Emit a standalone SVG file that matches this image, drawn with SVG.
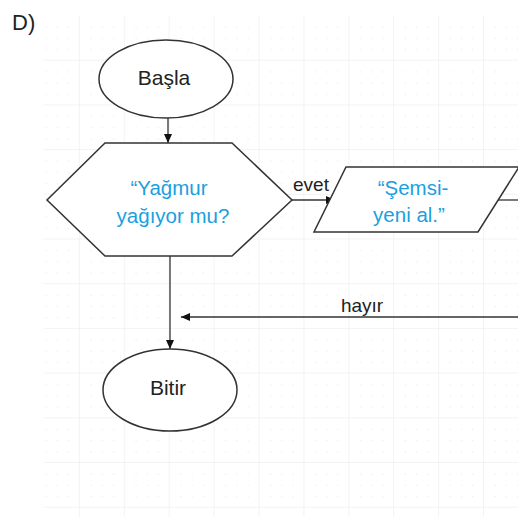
<svg xmlns="http://www.w3.org/2000/svg" width="518" height="517" viewBox="0 0 518 517">
<defs>
<pattern id="grid" x="35" y="16" width="44.9" height="44.7" patternUnits="userSpaceOnUse">
<path d="M44.9 0 V44.7 M0 44.7 H44.9" fill="none" stroke="#e8e8e8" stroke-width="1"/>
<g fill="#ececec">
<circle cx="11.2" cy="11.2" r="0.7"/><circle cx="22.4" cy="11.2" r="0.7"/><circle cx="33.6" cy="11.2" r="0.7"/>
<circle cx="11.2" cy="22.4" r="0.7"/><circle cx="22.4" cy="22.4" r="0.7"/><circle cx="33.6" cy="22.4" r="0.7"/>
<circle cx="11.2" cy="33.6" r="0.7"/><circle cx="22.4" cy="33.6" r="0.7"/><circle cx="33.6" cy="33.6" r="0.7"/>
</g>
</pattern>
<marker id="arr" markerWidth="10" markerHeight="10" refX="9" refY="5" orient="auto" markerUnits="userSpaceOnUse">
<path d="M0 1 L9 5 L0 9 Z" fill="#111"/>
</marker>
</defs>
<style>
.shape{fill:#fff;stroke:#333;stroke-width:1.5}
.edge{fill:none;stroke:#333;stroke-width:1.3}
.t{font-family:"Liberation Sans",Arial,sans-serif;fill:#222;text-anchor:middle}
.b{font-family:"Liberation Sans",Arial,sans-serif;fill:#1a9fe0;text-anchor:middle;font-size:20.5px}
</style>
<rect width="518" height="517" fill="#fff"/>
<rect x="44" y="16" width="474" height="501" fill="url(#grid)"/>
<text x="12" y="30" font-family="Liberation Sans,Arial,sans-serif" font-size="22" fill="#222">D)</text>
<g id="edges">
<line class="edge" x1="168" y1="118" x2="168" y2="143" marker-end="url(#arr)"/>
<line class="edge" x1="292" y1="200" x2="335" y2="200" marker-end="url(#arr)"/>
<line class="edge" x1="497" y1="200" x2="518" y2="200"/>
<line class="edge" x1="170" y1="256" x2="170" y2="349" marker-end="url(#arr)"/>
<line class="edge" x1="518" y1="317" x2="181" y2="317" marker-end="url(#arr)"/>
<text class="t" x="311" y="191" font-size="19">evet</text>
<text class="t" x="362" y="312" font-size="19">hayır</text>
</g>
<g id="basla">
<ellipse class="shape" cx="166" cy="79" rx="67" ry="39"/>
<text class="t" x="164" y="85" font-size="21">Başla</text>
</g>
<g id="karar">
<polygon class="shape" points="105,143 232,143 292,200 232,256 105,256 47,200"/>
<text class="b" x="169" y="195">“Yağmur</text>
<text class="b" x="173" y="223">yağıyor mu?</text>
</g>
<g id="semsiye">
<polygon class="shape" points="346,167 519,167 478,232 314,232"/>
<text class="b" x="413" y="195">“Şemsi-</text>
<text class="b" x="409" y="222">yeni al.”</text>
</g>
<g id="bitir">
<ellipse class="shape" cx="170" cy="390" rx="67" ry="41"/>
<text class="t" x="168" y="395" font-size="21">Bitir</text>
</g>
</svg>
